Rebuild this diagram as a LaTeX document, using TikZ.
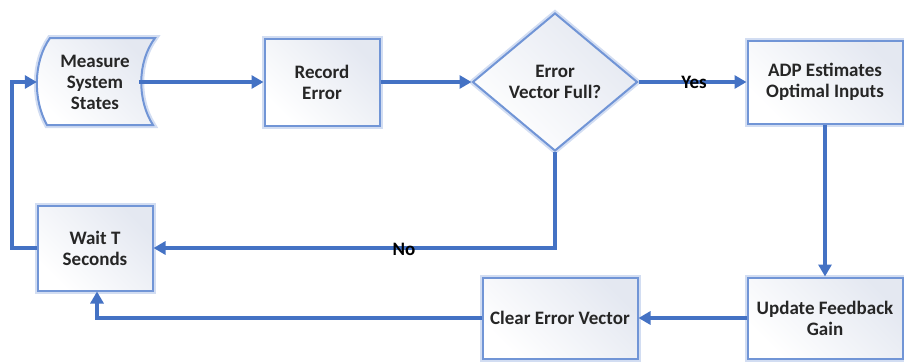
\documentclass[tikz,border=0pt]{standalone}
\usepackage{fontspec}
\setmainfont{Carlito}
\usetikzlibrary{shapes.geometric,arrows.meta}
\definecolor{linec}{HTML}{4472C4}
\definecolor{boxc}{HTML}{7195D6}
\definecolor{glowc}{HTML}{B4C7EA}
\definecolor{fillb}{HTML}{E4E8F1}
\tikzset{
  txt/.style={font=\fontsize{19}{21}\selectfont\bfseries, align=center, inner sep=0pt, text=black!85},
  boxstyle/.style={txt, draw=boxc, line width=2pt, left color=white, right color=fillb, shading angle=135,
    preaction={draw=glowc, line width=6pt, opacity=0.6}},
  conn/.style={draw=linec, line width=3.5pt, -{Triangle[length=12pt,width=13pt]}},
  lbl/.style={font=\fontsize{19}{21}\selectfont\bfseries, text=black, inner sep=0pt}
}
\begin{document}
\begin{tikzpicture}[x=1pt,y=-1pt]
\useasboundingbox (0,0) rectangle (904,362);
% tape shape for Measure System States
\path[boxstyle] (50,38) -- (155,38) .. controls (137,62) and (137,100) .. (153,125) -- (47,125) .. controls (33,100) and (33,62) .. (50,38) -- cycle;
\node[txt, minimum width=116pt, minimum height=86pt] (ms) at (95,82) {Measure\\System\\States};
\node[boxstyle, minimum width=115pt, minimum height=87pt] (re) at (322,82) {Record\\Error};
\node[boxstyle, diamond, minimum width=165pt, minimum height=138pt] (dv) at (555,82) {Error\\Vector Full?};
\node[boxstyle, minimum width=155pt, minimum height=83pt] (adp) at (825,82) {ADP Estimates\\Optimal Inputs};
\node[boxstyle, minimum width=115pt, minimum height=85pt] (wt) at (95,248) {Wait T\\Seconds};
\node[boxstyle, minimum width=155pt, minimum height=81pt] (ce) at (560,318) {Clear Error Vector};
\node[boxstyle, minimum width=155pt, minimum height=81pt] (uf) at (825,318) {Update Feedback\\Gain};
\coordinate (wl) at (12,248);
\coordinate (cd) at (555,248);
\draw[conn] ([xshift=-14pt]ms.east) -- (re.west);
\draw[conn] (re.east) -- (dv.west);
\draw[conn] (dv.east) -- (adp.west);
\draw[conn] (adp.south) -- (uf.north);
\draw[conn] (uf.west) -- (ce.east);
\draw[conn] (ce.west) -| ([xshift=2pt]wt.south);
\draw[conn] (dv.south) -- (cd) -- (wt.east);
\draw[conn] (wt.west) -- (wl) |- (ms.west);
\node[lbl] (yes) at (694,82) {Yes};
\node[lbl] (no) at (404,249) {No};
\end{tikzpicture}
\end{document}
